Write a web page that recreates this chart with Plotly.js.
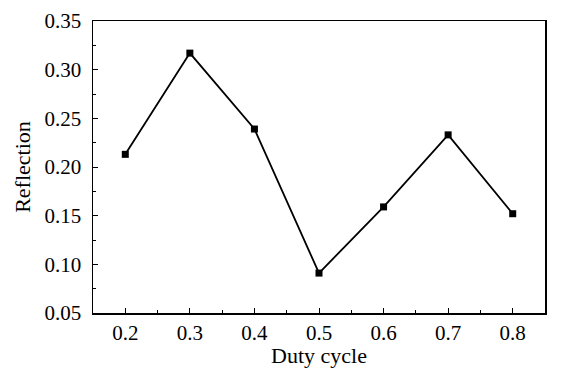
<!DOCTYPE html>
<html>
<head>
<meta charset="utf-8">
<script src="https://cdn.plot.ly/plotly-3.0.1.min.js"></script>
<style>html,body{margin:0;padding:0;background:#fff;}#chart{width:566px;height:368px;}</style>
</head>
<body>
<div id="chart"></div>
<script>
var dutyCycle = [0.2, 0.3, 0.4, 0.5, 0.6, 0.7, 0.8];
var reflection = [0.213, 0.317, 0.239, 0.091, 0.159, 0.233, 0.152];
var xTickVals = [0.2, 0.3, 0.4, 0.5, 0.6, 0.7, 0.8];
var yTickVals = [0.05, 0.10, 0.15, 0.20, 0.25, 0.30, 0.35];
var yTickText = ['0.05', '0.10', '0.15', '0.20', '0.25', '0.30', '0.35'];

var font = 'Liberation Serif, Times New Roman, serif';
var trace = {
  x: dutyCycle, y: reflection, type: 'scatter', mode: 'lines+markers',
  line: {color: '#000', width: 1.8},
  marker: {symbol: 'square', size: 7, color: '#000'},
  hoverinfo: 'none'
};
var layout = {
  width: 566, height: 368,
  margin: {l: 93, r: 21, t: 21, b: 55},
  paper_bgcolor: '#fff', plot_bgcolor: '#fff',
  showlegend: false,
  font: {family: font, color: '#000', size: 21},
  xaxis: {
    range: [0.15, 0.85], tickvals: xTickVals, ticktext: xTickVals.map(function(v){return v.toFixed(1);}),
    ticks: 'inside', ticklen: 5, tickwidth: 1, tickcolor: '#000',
    minor: {ticks: 'inside', ticklen: 3, dtick: 0.05, tick0: 0.15, tickcolor: '#000', showgrid: false},
    showline: true, linecolor: '#000', linewidth: 1.5, mirror: true,
    showgrid: false, zeroline: false,
    tickfont: {family: font, size: 21, color: '#000'},
    ticklabelstandoff: 0,
    title: {text: 'Duty cycle', font: {family: font, size: 22, color: '#000'}, standoff: 8}
  },
  yaxis: {
    range: [0.05, 0.35], tickvals: yTickVals, ticktext: yTickText,
    ticks: 'inside', ticklen: 5, tickwidth: 1, tickcolor: '#000',
    minor: {ticks: 'inside', ticklen: 3, dtick: 0.025, tick0: 0.05, tickcolor: '#000', showgrid: false},
    showline: true, linecolor: '#000', linewidth: 1.5, mirror: true,
    showgrid: false, zeroline: false,
    tickfont: {family: font, size: 21, color: '#000'},
    ticklabelstandoff: 6,
    title: {text: 'Reflection', font: {family: font, size: 22, color: '#000'}, standoff: 8}
  }
};
Plotly.newPlot('chart', [trace], layout, {displayModeBar: false, staticPlot: true});
</script>
</body>
</html>
